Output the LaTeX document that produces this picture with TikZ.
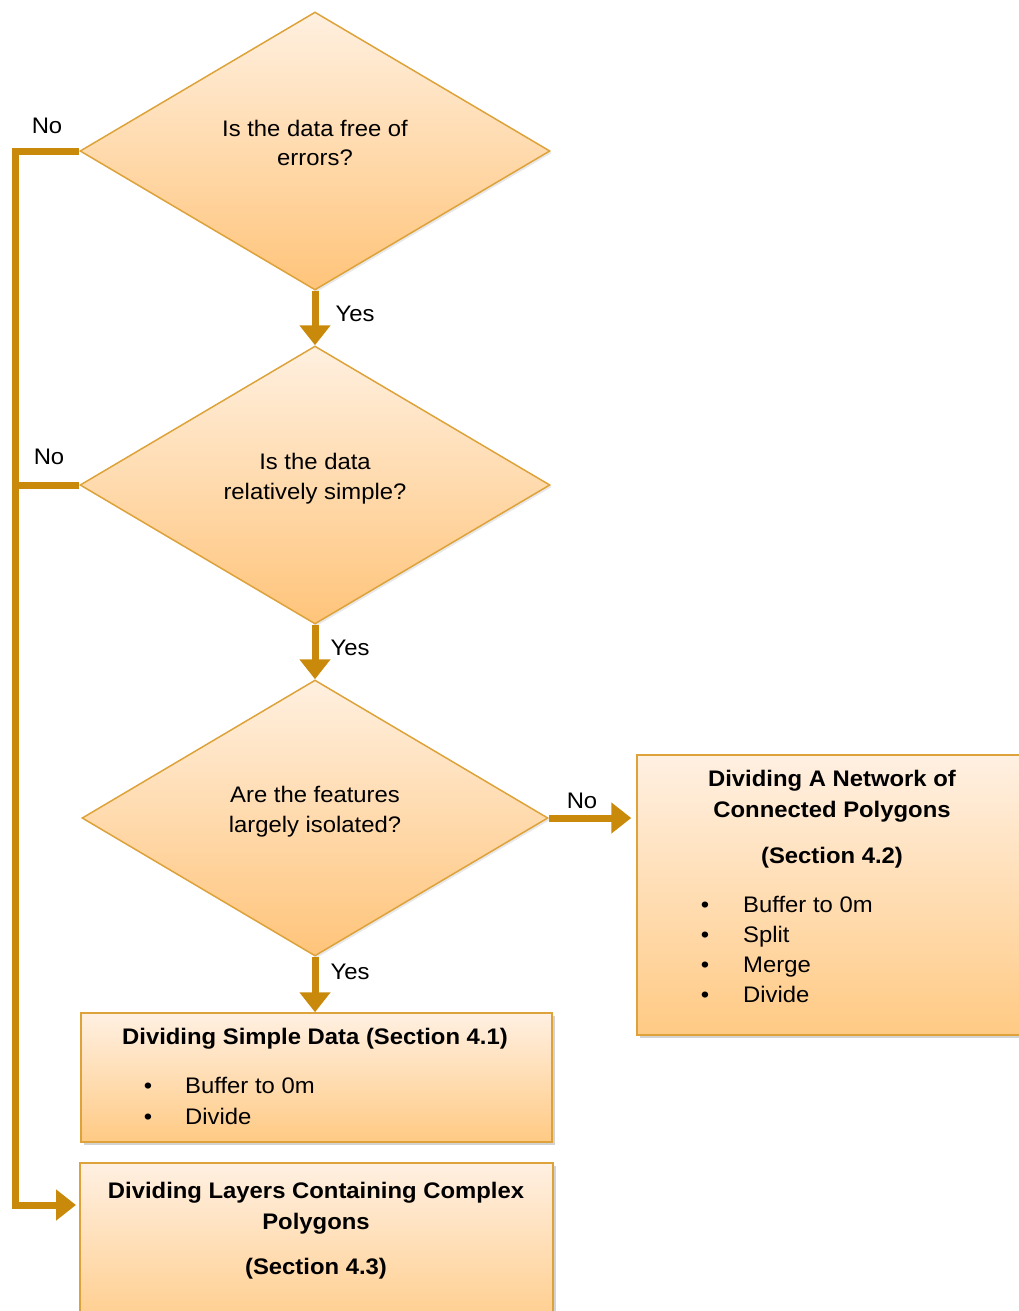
\documentclass[tikz,border=0pt]{standalone}
\usepackage{fontspec}
\setmainfont{Liberation Sans}[FakeStretch=1.06]
\usetikzlibrary{shapes.geometric,arrows.meta,shadows}
\definecolor{lineC}{HTML}{C98A0C}
\definecolor{edgeC}{HTML}{DDA33A}
\definecolor{dTop}{HTML}{FFF0E0}
\definecolor{dBot}{HTML}{FFC47A}
\definecolor{bTop}{HTML}{FFF0E2}
\definecolor{bBot}{HTML}{FFCA84}
\begin{document}
\begin{tikzpicture}[x=1pt,y=-1pt,
  txt/.style={font=\fontsize{22.5}{30}\selectfont, inner sep=0pt, anchor=base},
  ttl/.style={txt, font=\fontsize{22.5}{30}\selectfont\bfseries},
  item/.style={txt, anchor=base west},
  decision/.style={diamond, draw=edgeC, line width=1.5pt, top color=dTop, bottom color=dBot, inner sep=0pt,
    drop shadow={opacity=0.18, shadow xshift=2pt, shadow yshift=-2pt}},
  procbox/.style={rectangle, draw=edgeC, line width=1.5pt, top color=bTop, bottom color=bBot, inner sep=0pt,
    drop shadow={opacity=0.35, shadow xshift=3pt, shadow yshift=-3pt}},
  conn/.style={draw=lineC, line width=7pt},
  arr/.style={conn, -{Triangle[width=30pt,length=20pt]}}]
\useasboundingbox (0,0) rectangle (1018,1311);

% shapes
\node[decision, minimum width=470pt, minimum height=278pt] (d1) at (315,151) {};
\node[decision, minimum width=470pt, minimum height=278pt] (d2) at (315,485) {};
\node[decision, minimum width=466pt, minimum height=276pt] (d3) at (315,818) {};
\node[procbox, minimum width=471pt, minimum height=129pt] (b1) at (316.5,1077.5) {};
\node[procbox, minimum width=385pt, minimum height=280pt] (b2) at (829.5,895) {};
\node[procbox, minimum width=473pt, minimum height=177pt] (b3) at (316.5,1251.5) {};

% diamond texts
\node[txt] (d1a) at (315,136) {Is the data free of};
\node[txt] (d1b) at (315,165) {errors?};
\node[txt] (d2a) at (315,469) {Is the data};
\node[txt] (d2b) at (315,499) {relatively simple?};
\node[txt] (d3a) at (315,802) {Are the features};
\node[txt] (d3b) at (315,832) {largely isolated?};

% box 1
\node[ttl] (b1t) at (315,1044) {Dividing Simple Data (Section 4.1)};
\node[txt] (b1p1) at (148,1093) {•};
\node[item] (b1i1) at (185,1093) {Buffer to 0m};
\node[txt] (b1p2) at (148,1124) {•};
\node[item] (b1i2) at (185,1124) {Divide};

% box 2
\node[ttl] (b2t1) at (832,786) {Dividing A Network of};
\node[ttl] (b2t2) at (832,817) {Connected Polygons};
\node[ttl] (b2t3) at (832,863) {(Section 4.2)};
\node[txt] (b2p1) at (705,912) {•};
\node[item] (b2i1) at (743,912) {Buffer to 0m};
\node[txt] (b2p2) at (705,942) {•};
\node[item] (b2i2) at (743,942) {Split};
\node[txt] (b2p3) at (705,972) {•};
\node[item] (b2i3) at (743,972) {Merge};
\node[txt] (b2p4) at (705,1002) {•};
\node[item] (b2i4) at (743,1002) {Divide};

% box 3
\node[ttl] (b3t1) at (316,1198) {Dividing Layers Containing Complex};
\node[ttl] (b3t2) at (316,1229) {Polygons};
\node[ttl] (b3t3) at (316,1274) {(Section 4.3)};

% connectors
\coordinate (lx) at (15,151);
\coordinate (c3) at (80,1205);
\draw[arr] (d1.south) -- (d2.north);
\draw[arr] (d2.south) -- (d3.north);
\draw[arr] (d3.south) -- (b1.north -| d3.south);
\draw[arr, shorten >=5pt] (d3.east) -- (d3.east -| b2.west);
\draw[arr, shorten >=4pt] (d1.west) -- (lx) |- (c3);
\draw[conn] (d2.west) -- (d2.west -| lx);

% labels
\node[txt] (n1) at (47,133) {No};
\node[txt] (n2) at (49,464) {No};
\node[txt] (n3) at (582,808) {No};
\node[txt] (y1) at (355,321) {Yes};
\node[txt] (y2) at (350,655) {Yes};
\node[txt] (y3) at (350,979) {Yes};
\end{tikzpicture}
\end{document}
